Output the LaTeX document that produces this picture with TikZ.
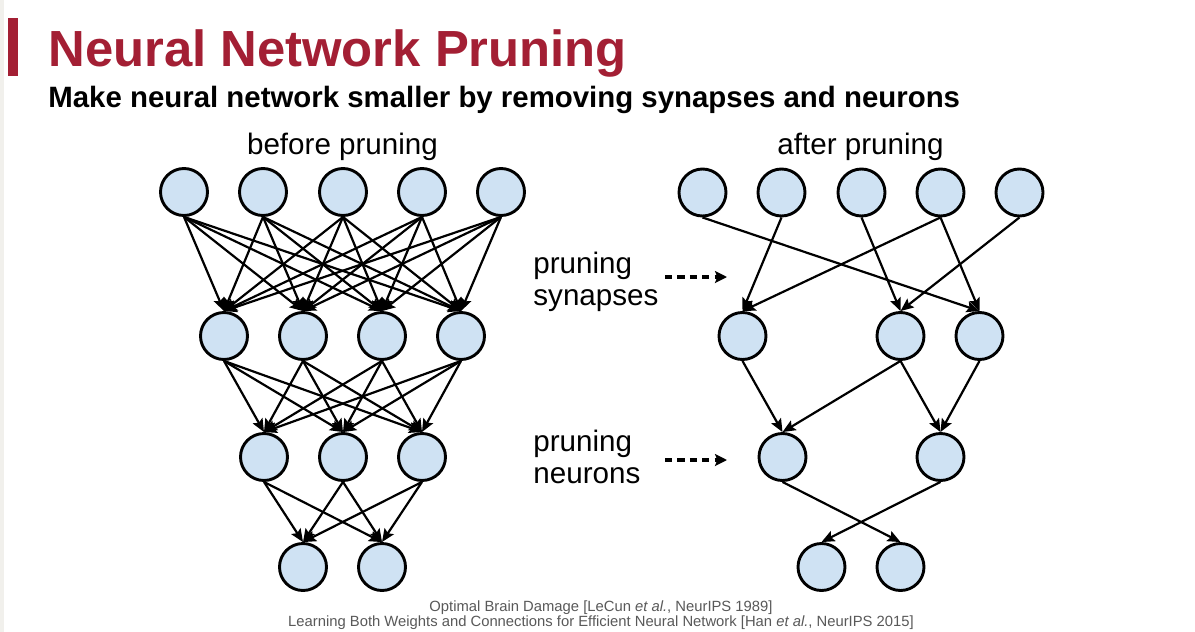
\documentclass[tikz,border=0pt]{standalone}
\usepackage{fontspec}
\setmainfont{Liberation Sans}
\usetikzlibrary{arrows.meta}
\definecolor{nodeblue}{HTML}{CFE2F3}
\definecolor{titlered}{HTML}{A31F34}
\definecolor{footgray}{HTML}{595959}
\definecolor{edgegray}{HTML}{F1F0EC}
\begin{document}
\begin{tikzpicture}[x=0.5pt,y=-0.5pt,
  neuron/.style={circle,draw=black,line width=1.45pt,fill=nodeblue,minimum size=23.5pt,inner sep=0pt},
  syn/.style={line width=1.1pt,-{Stealth[length=6.5pt,width=5.5pt,inset=1.2pt]}},
  dasharrow/.style={line width=1.7pt,dash pattern=on 3.6pt off 2.6pt,-{Stealth[length=6pt,width=6pt,inset=1.2pt]}},
  lbl/.style={font=\fontsize{14.8}{17}\selectfont,inner sep=0pt},
  foot/.style={font=\fontsize{7.4}{8}\selectfont,text=footgray,inner sep=0pt}]
\useasboundingbox (0,0) rectangle (1195,632);
\fill[white] (0,0) rectangle (1195,632);
\fill[edgegray] (0,0) rectangle (4,632);
\fill[titlered] (8,18) rectangle (18,76);
\node[anchor=base west,text=titlered,font=\bfseries\fontsize{25.4}{30}\selectfont,inner sep=0pt] (title) at (48,66) {Neural Network Pruning};
\node[anchor=base west,font=\bfseries\fontsize{14.7}{17}\selectfont,inner sep=0pt] (subtitle) at (48,107) {Make neural network smaller by removing synapses and neurons};
\node[lbl,anchor=base] (before) at (342.5,154) {before pruning};
\node[lbl,anchor=base] (after) at (860.5,154) {after pruning};
\node[lbl,anchor=base west] (ps1) at (533,273) {pruning};
\node[lbl,anchor=base west] (ps2) at (533,305) {synapses};
\node[lbl,anchor=base west] (pn1) at (533,451) {pruning};
\node[lbl,anchor=base west] (pn2) at (533,483) {neurons};
\coordinate (d1s) at (665,277); \coordinate (d1e) at (727,277);
\coordinate (d2s) at (665,460); \coordinate (d2e) at (727,460);
\draw[dasharrow] (d1s) -- (d1e);
\draw[dasharrow] (d2s) -- (d2e);
% left network
\foreach \i/\x in {1/184,2/263,3/343,4/422,5/501} \node[neuron] (a\i) at (\x,192) {};
\foreach \i/\x in {1/224,2/303,3/382,4/461} \node[neuron] (b\i) at (\x,336) {};
\foreach \i/\x in {1/264,2/343,3/422} \node[neuron] (c\i) at (\x,457) {};
\foreach \i/\x in {1/303,2/382} \node[neuron] (d\i) at (\x,567) {};
\foreach \i in {1,...,5} \foreach \j in {1,...,4} \draw[syn] (a\i.south) -- (b\j.north);
\foreach \i in {1,...,4} \foreach \j in {1,...,3} \draw[syn] (b\i.south) -- (c\j.north);
\foreach \i in {1,...,3} \foreach \j in {1,2} \draw[syn] (c\i.south) -- (d\j.north);
% right network
\foreach \i/\x in {1/702.5,2/781.5,3/861.5,4/940.5,5/1019.5} \node[neuron] (ra\i) at (\x,192.5) {};
\foreach \i/\x in {1/742.5,3/900.5,4/979.5} \node[neuron] (rb\i) at (\x,336) {};
\foreach \i/\x in {1/782.5,3/940.5} \node[neuron] (rc\i) at (\x,457) {};
\foreach \i/\x in {1/821.5,2/900.5} \node[neuron] (rd\i) at (\x,567) {};
\draw[syn] (ra1.south) -- (rb4.north);
\draw[syn] (ra2.south) -- (rb1.north);
\draw[syn] (ra3.south) -- (rb3.north);
\draw[syn] (ra4.south) -- (rb1.north);
\draw[syn] (ra4.south) -- (rb4.north);
\draw[syn] (ra5.south) -- (rb3.north);
\draw[syn] (rb1.south) -- (rc1.north);
\draw[syn] (rb3.south) -- (rc1.north);
\draw[syn] (rb3.south) -- (rc3.north);
\draw[syn] (rb4.south) -- (rc3.north);
\draw[syn] (rc1.south) -- (rd2.north);
\draw[syn] (rc3.south) -- (rd1.north);
\node[foot,anchor=base] (f1) at (601,611) {Optimal Brain Damage [LeCun \textit{et al.}, NeurIPS 1989]};
\node[foot,anchor=base] (f2) at (601,626) {Learning Both Weights and Connections for Efficient Neural Network [Han \textit{et al.}, NeurIPS 2015]};
\end{tikzpicture}
\end{document}
